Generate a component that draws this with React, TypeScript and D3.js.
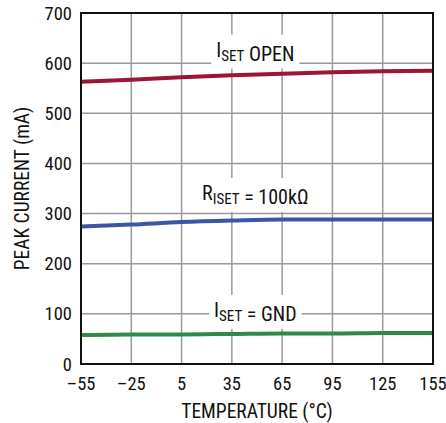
import React, { useEffect, useRef } from 'react';
import * as d3 from 'd3';

// Peak current vs temperature
const temps = [-55, -25, 5, 35, 65, 95, 125, 155];
const isetOpen = [563, 567, 572, 576, 579, 582, 584, 585];
const riset100k = [274, 278, 283, 286, 288, 288, 288, 288];
const isetGnd = [58, 59, 59, 60, 61, 61, 62, 62];

const xTicks = [-55, -25, 5, 35, 65, 95, 125, 155];
const yTicks = [0, 100, 200, 300, 400, 500, 600, 700];

const series = [
  { name: 'open', values: isetOpen, color: '#9b1537' },
  { name: 'r100k', values: riset100k, color: '#3b56a6' },
  { name: 'gnd', values: isetGnd, color: '#2f8a47' },
];

// label parts: [text, isSubscript]
const labels = [
  { parts: [['I', false], ['SET', true], [' OPEN', false]], t: 49, v: 613 },
  { parts: [['R', false], ['ISET', true], [' = 100kΩ', false]], t: 49, v: 327 },
  { parts: [['I', false], ['SET', true], [' = GND', false]], t: 49, v: 94 },
];

const W = 446;
const H = 423;
const margin = { top: 13, right: 13, bottom: 59, left: 81 };
const FONT = '"Liberation Sans Narrow", "Arial Narrow", "Roboto Condensed", sans-serif';
const INK = '#111';

const App: React.FC = () => {
  const svgRef = useRef<SVGSVGElement>(null);

  useEffect(() => {
    if (!svgRef.current) return;
    const svg = d3.select(svgRef.current);
    svg.selectAll('*').remove();

    const x = d3.scaleLinear().domain([-55, 155]).range([margin.left, W - margin.right]);
    const y = d3.scaleLinear().domain([0, 700]).range([H - margin.bottom, margin.top]);

    const g = svg.append('g');

    // grid
    g.selectAll('line.vgrid')
      .data(xTicks.slice(1, -1))
      .enter()
      .append('line')
      .attr('x1', d => x(d))
      .attr('x2', d => x(d))
      .attr('y1', y(0))
      .attr('y2', y(700))
      .attr('stroke', '#9a9a9a')
      .attr('stroke-width', 1.5);
    g.selectAll('line.hgrid')
      .data(yTicks.slice(1, -1))
      .enter()
      .append('line')
      .attr('x1', x(-55))
      .attr('x2', x(155))
      .attr('y1', d => y(d))
      .attr('y2', d => y(d))
      .attr('stroke', '#9a9a9a')
      .attr('stroke-width', 1.5);

    // labels with white knock-out boxes
    labels.forEach(l => {
      const lg = g.append('g');
      const text = lg.append('text')
        .attr('x', x(l.t))
        .attr('y', y(l.v))
        .attr('text-anchor', 'middle')
        .attr('font-family', FONT)
        .attr('font-size', 20)
        .attr('fill', INK);
      l.parts.forEach(([s, sub]) => {
        text.append('tspan')
          .attr('font-size', sub ? 15 : 20)
          .attr('dy', sub ? 4 : 0)
          .text(s as string);
        if (sub) text.append('tspan').attr('dy', -4).text('');
      });
      const bb = (text.node() as SVGTextElement).getBBox();
      lg.insert('rect', 'text')
        .attr('x', bb.x - 5)
        .attr('y', bb.y - 3)
        .attr('width', bb.width + 10)
        .attr('height', bb.height + 6)
        .attr('fill', '#fff');
    });

    // curves
    const line = d3.line<number>()
      .x((_, i) => x(temps[i]))
      .y(d => y(d))
      .curve(d3.curveMonotoneX);

    series.forEach(s => {
      g.append('path')
        .attr('d', line(s.values))
        .attr('fill', 'none')
        .attr('stroke', s.color)
        .attr('stroke-width', 4);
    });

    // frame
    g.append('rect')
      .attr('x', x(-55))
      .attr('y', y(700))
      .attr('width', x(155) - x(-55))
      .attr('height', y(0) - y(700))
      .attr('fill', 'none')
      .attr('stroke', '#111')
      .attr('stroke-width', 2);

    // tick labels
    g.selectAll('text.xt')
      .data(xTicks)
      .enter()
      .append('text')
      .attr('x', d => x(d))
      .attr('y', y(0) + 26)
      .attr('text-anchor', 'middle')
      .attr('font-family', FONT)
      .attr('font-size', 18.5)
      .attr('fill', INK)
      .text(d => (d < 0 ? '\u2013' + Math.abs(d) : String(d)));

    g.selectAll('text.yt')
      .data(yTicks)
      .enter()
      .append('text')
      .attr('x', x(-55) - 9)
      .attr('y', d => y(d) + 6.5)
      .attr('text-anchor', 'end')
      .attr('font-family', FONT)
      .attr('font-size', 18.5)
      .attr('fill', INK)
      .text(d => String(d));

    // axis titles
    g.append('text')
      .attr('x', (x(-55) + x(155)) / 2)
      .attr('y', 418)
      .attr('text-anchor', 'middle')
      .attr('font-family', FONT)
      .attr('font-size', 19.5)
      .attr('fill', INK)
      .text('TEMPERATURE (°C)');

    g.append('text')
      .attr('transform', `translate(29, ${(y(0) + y(700)) / 2}) rotate(-90)`)
      .attr('text-anchor', 'middle')
      .attr('font-family', FONT)
      .attr('font-size', 19.5)
      .attr('fill', INK)
      .text('PEAK CURRENT (mA)');
  }, []);

  return (
    <div style={{ position: 'absolute', left: 0, top: 0, width: W, height: H, background: '#fff' }}>
      <svg ref={svgRef} width={W} height={H} />
    </div>
  );
};

export default App;
